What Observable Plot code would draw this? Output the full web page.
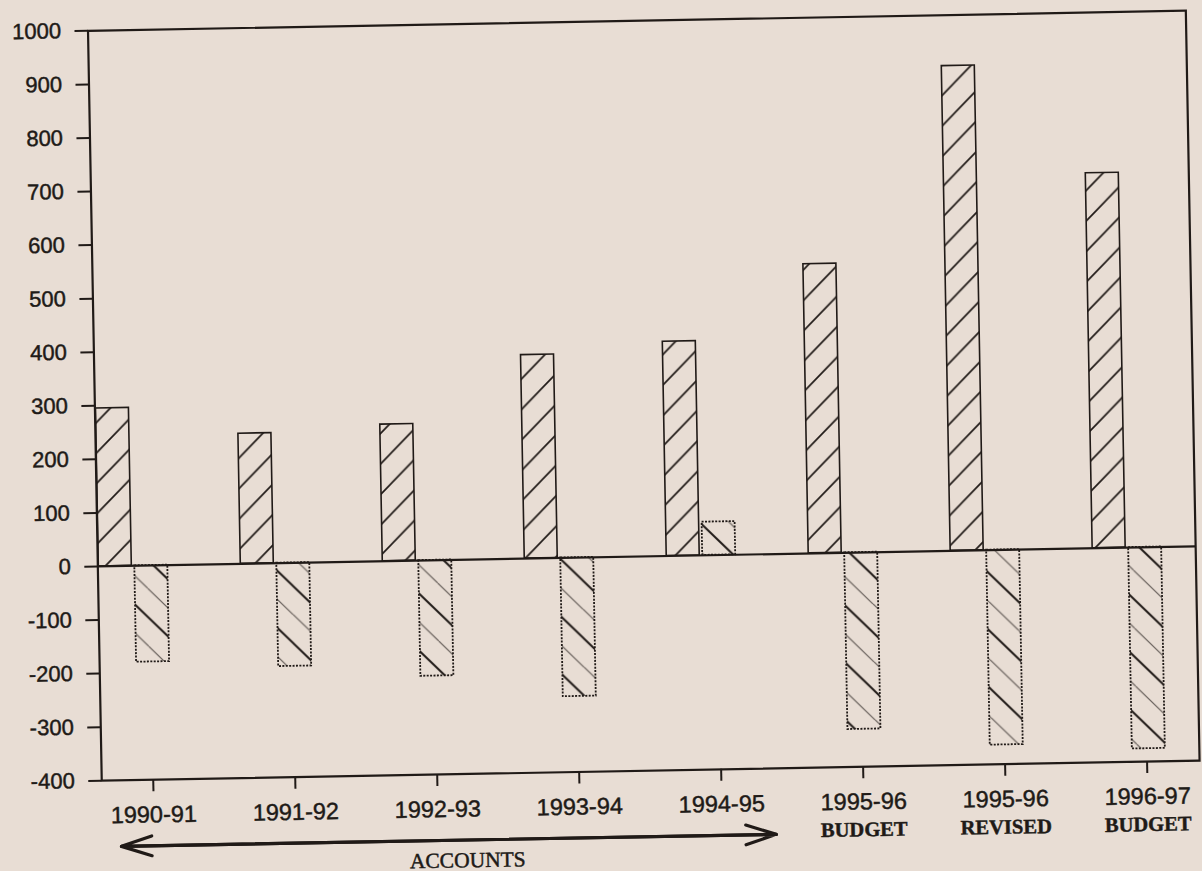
<!DOCTYPE html>
<html>
<head>
<meta charset="utf-8">
<script src="https://cdn.jsdelivr.net/npm/d3@7"></script>
<script src="https://cdn.jsdelivr.net/npm/@observablehq/plot@0.6"></script>
<style>
  html, body { margin: 0; padding: 0; background: #e8ddd4; overflow: hidden; }
  #chart { width: 1202px; height: 871px; transform: rotate(-1.05deg); transform-origin: 601px 435px; }
  #chart svg { display: block; }
  #chart svg text { stroke: #201a17; stroke-width: 0.45px; }
</style>
</head>
<body>
<div id="chart"></div>
<script>
// ---- data ----
const years = ["1990-91", "1991-92", "1992-93", "1993-94", "1994-95", "1995-96", "1995-96", "1996-97"];
const stages = ["", "", "", "", "", "BUDGET", "REVISED", "BUDGET"];
const categories = years.map((y, i) => (stages[i] ? y + " " + stages[i] : y));
const seriesA = [295, 243, 255, 380, 400, 540, 905, 700];      // forward-hatched bars
const seriesB = [-180, -193, -216, -259, 62, -330, -364, -376]; // back-hatched bars
const yTicks = [-400, -300, -200, -100, 0, 100, 200, 300, 400, 500, 600, 700, 800, 900, 1000];
const accountsLabel = ["ACCOUNTS"];
const accountsSpan = ["1990-91", "1994-95"]; // categories covered by the ACCOUNTS arrow

// ---- tables built from the arrays ----
const rowsA = categories.map((c, i) => ({cat: c, value: seriesA[i]}));
const rowsB = categories.map((c, i) => ({cat: c, value: seriesB[i]}));
const rowsStage = categories.map((c, i) => ({cat: c, stage: stages[i]})).filter(d => d.stage);
const yMin = yTicks[0];

const ink = "#201a17";
const sans = "'Liberation Sans', Arial, sans-serif";
const serif = "'Liberation Serif', 'Times New Roman', serif";

const chart = Plot.plot({
  width: 1202,
  height: 871,
  marginLeft: 95,
  marginRight: 9,
  marginTop: 21,
  marginBottom: 100,
  style: {background: "transparent", color: ink, fontFamily: sans, overflow: "visible"},
  x: {domain: categories, range: [96, 1162.5], paddingInner: 0.516, paddingOuter: 0, align: 0},
  y: {domain: [yTicks[0], yTicks[yTicks.length - 1]]},
  marks: [
    Plot.barY(rowsA, {x: "cat", y: "value", insetRight: 36, fill: "url(#hatchA)", stroke: ink, strokeWidth: 1.6}),
    Plot.barY(rowsB, {x: "cat", y: "value", insetLeft: 36, fill: "url(#hatchB)", stroke: ink, strokeWidth: 1.8, strokeDasharray: "2,1.4"}),
    Plot.ruleY([0], {stroke: ink, strokeWidth: 2.2}),
    Plot.frame({stroke: ink, strokeWidth: 2.2}),
    Plot.axisY({ticks: yTicks, tickSize: 13, tickPadding: 14, tickFormat: d => String(d), fontSize: 22, label: null, stroke: ink, strokeWidth: 2}),
    Plot.axisX({ticks: categories, anchor: "bottom", tickSize: 12, tickPadding: 14, dx: 16,
      tickFormat: d => years[categories.indexOf(d)], fontSize: 23.5, label: null, stroke: ink, strokeWidth: 2}),
    Plot.text(rowsStage, {x: "cat", y: () => yMin, text: "stage", dx: 16, dy: 55, lineAnchor: "top",
      fontFamily: serif, fontSize: 20.5, fontWeight: "bold", fill: ink}),
    // double-headed ACCOUNTS arrow
    Plot.arrow([0], {x1: () => accountsSpan[0], x2: () => accountsSpan[1], y1: () => yMin, y2: () => yMin,
      dy: 66, insetStart: -17, insetEnd: -70, stroke: ink, strokeWidth: 3.2, headLength: 15, headAngle: 36}),
    Plot.arrow([0], {x1: () => accountsSpan[1], x2: () => accountsSpan[0], y1: () => yMin, y2: () => yMin,
      dy: 66, insetStart: -70, insetEnd: -17, stroke: ink, strokeWidth: 3.2, headLength: 15, headAngle: 36}),
    Plot.text(accountsLabel, {x: () => "1992-93", y: () => yMin, text: d => d, dx: 45, dy: 78, lineAnchor: "top",
      fontFamily: serif, fontSize: 21.5, fill: ink})
  ]
});

// hatch patterns
const defs = d3.select(chart).insert("defs", ":first-child");
const pA = defs.append("pattern").attr("id", "hatchA").attr("patternUnits", "userSpaceOnUse")
  .attr("width", 30).attr("height", 30);
pA.append("path").attr("d", "M-7.5,7.5L7.5,-7.5M0,30L30,0M22.5,37.5L37.5,22.5")
  .attr("stroke", ink).attr("stroke-width", 1.7).attr("fill", "none");
const pB = defs.append("pattern").attr("id", "hatchB").attr("patternUnits", "userSpaceOnUse")
  .attr("width", 58).attr("height", 58);
pB.append("path").attr("d", "M0,0L58,58M-5,53L5,63M53,-5L63,5")
  .attr("stroke", ink).attr("stroke-width", 2).attr("fill", "none");
pB.append("path").attr("d", "M0,29L29,58M29,0L58,29")
  .attr("stroke", "#6a625d").attr("stroke-width", 1.2).attr("fill", "none");

document.getElementById("chart").appendChild(chart);
</script>
</body>
</html>
